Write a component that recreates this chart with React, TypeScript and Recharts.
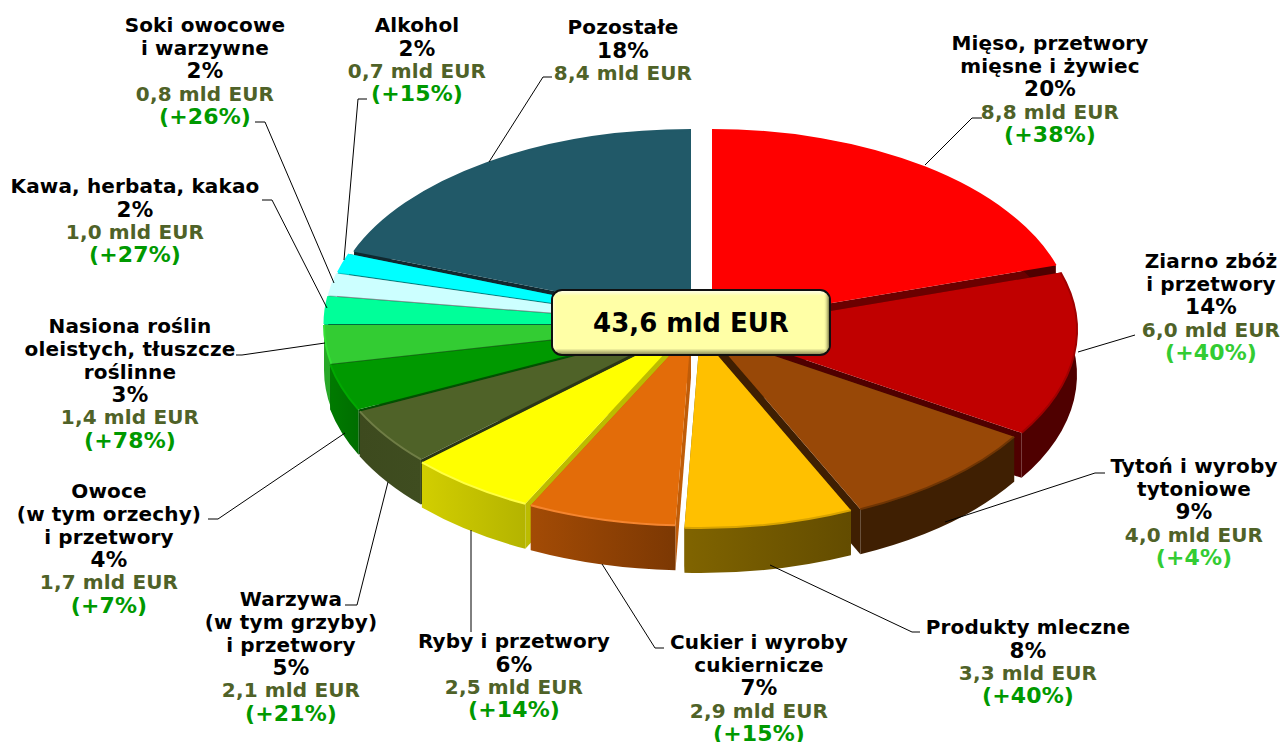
import { Pie, PieChart } from "recharts";

const CATEGORIES = [
  ["Mięso, przetwory", "mięsne i żywiec"],
  ["Ziarno zbóż", "i przetwory"],
  ["Tytoń i wyroby", "tytoniowe"],
  ["Produkty mleczne"],
  ["Cukier i wyroby", "cukiernicze"],
  ["Ryby i przetwory"],
  ["Warzywa", "(w tym grzyby)", "i przetwory"],
  ["Owoce", "(w tym orzechy)", "i przetwory"],
  ["Nasiona roślin", "oleistych, tłuszcze", "roślinne"],
  ["Kawa, herbata, kakao"],
  ["Soki owocowe", "i warzywne"],
  ["Alkohol"],
  ["Pozostałe"],
];
const VALUES = [8.8, 6.0, 4.0, 3.3, 2.9, 2.5, 2.1, 1.7, 1.4, 1.0, 0.8, 0.7, 8.4];
const SHARES = [20, 14, 9, 8, 7, 6, 5, 4, 3, 2, 2, 2, 18];
const CHANGES = [38, 40, 4, 40, 15, 14, 21, 7, 78, 27, 26, 15, null];
const TOTAL_LABEL = "43,6 mld EUR";

const TOP_COLORS = ["#ff0000", "#c00000", "#984807", "#ffc000", "#e36c09", "#ffff00", "#4f6228", "#009900", "#33cc33", "#00ff99", "#ccffff", "#00ffff", "#215968"];
const RIM_COLORS = ["#ff0000", "#a00000", "#6f3504", "#d9a400", "#f5852f", "#ffff40", "#6f7d45", "#00a800", "#35e035", "#00ff99", "#ccffff", "#00ffff", "#215968"];
const CUT_COLORS = ["#6b0000", "#4f0000", "#3f1f02", "#806000", "#c05c08", "#bcbc00", "#2b3616", "#005200", "#1c6e1c", "#006b40", "#7f8f8f", "#008080", "#10282f"];
const WALL_LEFT = ["#4f0000", "#4f0000", "#3f1f02", "#806400", "#a34b05", "#d2ce00", "#3d4a1e", "#007a00", "#28a828", "#00cc7a", "#a3cccc", "#00cccc", "#10282f"];
const WALL_RIGHT = ["#4f0000", "#4f0000", "#3f1f02", "#634c00", "#7c3803", "#b4b400", "#3f4d20", "#006e00", "#28a828", "#00cc7a", "#a3cccc", "#00cccc", "#10282f"];

// where each exploded slice has its tip
const APEX = [
  [712, 323], [717, 330], [709.5, 334], [700, 335], [691, 332.5], [685.5, 331], [684.5, 328],
  [683, 326], [684, 325], [684.5, 324], [685, 323], [686, 322], [691, 318],
];
const RX = 360;
// Pozostałe is a bit flatter than the rest, its cut edge shows over the cyan slice
const RY = [193, 193, 193, 193, 193, 193, 193, 193, 193, 193, 193, 193, 188];
const DEPTH = 45;

// label centre x, first line y, leader line points
const LABEL_LAYOUT: { x: number; y: number; line: number[][] }[] = [
  { x: 1050, y: 43, line: [[925, 165], [972, 118], [982, 118]] },
  { x: 1211, y: 261, line: [[1078, 352], [1135, 335]] },
  { x: 1194, y: 466, line: [[945, 522], [1095, 473], [1105, 473]] },
  { x: 1028, y: 627, line: [[770, 565], [912, 632], [920, 632]] },
  { x: 759, y: 642, line: [[602, 564], [655, 648], [664, 648]] },
  { x: 514, y: 641, line: [[471, 530], [471, 632]] },
  { x: 291, y: 599, line: [[388, 482], [357, 605], [345, 605]] },
  { x: 109, y: 491, line: [[345, 433], [218, 519], [208, 519]] },
  { x: 130, y: 326, line: [[325, 343], [242, 355], [236, 355]] },
  { x: 135, y: 186, line: [[327, 308], [272, 200], [262, 200]] },
  { x: 205, y: 25, line: [[334, 283], [265, 122], [255, 122]] },
  { x: 417, y: 25, line: [[344, 260], [358, 99], [367, 99]] },
  { x: 623, y: 27, line: [[489, 162], [543, 77], [552, 77]] },
];

const rows = VALUES.map((value, id) => ({ id, value }));
const rowsBack = [...rows].reverse();

const pt = (i: number, deg: number, dy = 0) => {
  const a = (deg * Math.PI) / 180;
  return [APEX[i][0] + RX * Math.cos(a), APEX[i][1] - RY[i] * Math.sin(a) + dy];
};

// elliptical arc from angle a to b (clockwise on screen)
const arc = (i: number, a: number, b: number, dy = 0, back = false) => {
  const [x, y] = back ? pt(i, a, dy) : pt(i, b, dy);
  const large = Math.abs(a - b) > 180 ? 1 : 0;
  return `A${RX} ${RY[i]} 0 ${large} ${back ? 0 : 1} ${x} ${y}`;
};

const angles = (props: any) => {
  const hi = Math.max(props.startAngle, props.endAngle);
  const lo = Math.min(props.startAngle, props.endAngle);
  return [hi, lo];
};

const rowId = (props: any): number => props.payload?.id ?? props.id;

function wallShape(props: any, show: (i: number) => boolean) {
  const i = rowId(props);
  if (!show(i)) return <g />;
  const [a, b] = angles(props);
  const [ax, ay] = APEX[i];
  const s = pt(i, a);
  const e = pt(i, b);
  const cut = (p: number[]) => `M${ax} ${ay}L${p[0]} ${p[1]}L${p[0]} ${p[1] + DEPTH}L${ax} ${ay + DEPTH}Z`;
  const wall = `M${s[0]} ${s[1]}${arc(i, a, b)}L${e[0]} ${e[1] + DEPTH}${arc(i, a, b, DEPTH, true)}Z`;
  return (
    <g>
      <path d={cut(s)} fill={CUT_COLORS[i]} />
      <path d={cut(e)} fill={CUT_COLORS[i]} />
      <path d={wall} fill={`url(#wall${i})`} />
    </g>
  );
}

function topShape(props: any) {
  const i = rowId(props);
  const [a, b] = angles(props);
  const [ax, ay] = APEX[i];
  const s = pt(i, a);
  return (
    <g>
      <path d={`M${ax} ${ay}L${s[0]} ${s[1]}${arc(i, a, b)}Z`} fill={TOP_COLORS[i]} />
      <path d={`M${s[0]} ${s[1]}${arc(i, a, b)}`} fill="none" stroke={RIM_COLORS[i]} strokeWidth={2} />
    </g>
  );
}

function SliceLabel(props: any) {
  const i = rowId(props);
  const { x, y, line } = LABEL_LAYOUT[i];
  const lines = [
    ...CATEGORIES[i].map((t) => ({ t, c: "#000000", s: 20 })),
    { t: `${SHARES[i]}%`, c: "#000000", s: 21.5 },
    { t: `${VALUES[i].toFixed(1).replace(".", ",")} mld EUR`, c: "#4f6228", s: 20 },
  ];
  if (CHANGES[i] !== null) {
    lines.push({ t: `(+${CHANGES[i]}%)`, c: i === 1 || i === 2 ? "#33cc33" : "#009900", s: 22 });
  }
  return (
    <g>
      <polyline points={line.map((p) => p.join(",")).join(" ")} fill="none" stroke="#000000" strokeWidth={1} />
      {lines.map((l, n) => (
        <text
          key={n}
          x={x}
          y={y + n * 22.8}
          dy="0.36em"
          textAnchor="middle"
          fill={l.c}
          fontFamily="DejaVu Sans"
          fontWeight="bold"
          fontSize={l.s}
          letterSpacing={0.15}
        >
          {l.t}
        </text>
      ))}
    </g>
  );
}

export default function App() {
  return (
    <div style={{ position: "absolute", left: 0, top: 0, width: 1283, height: 742, background: "#ffffff" }}>
      <PieChart width={1283} height={742} margin={{ top: 0, right: 0, bottom: 0, left: 0 }}>
        <defs>
          {rows.map(({ id }) => (
            <linearGradient key={id} id={`wall${id}`} x1="0" y1="0" x2="1" y2="0">
              <stop offset="0%" stopColor={WALL_LEFT[id]} />
              <stop offset="100%" stopColor={WALL_RIGHT[id]} />
            </linearGradient>
          ))}
        </defs>
        {/* left half goes back to front, so it runs the other way round */}
        <Pie
          data={rowsBack}
          dataKey="value"
          cx={700}
          cy={330}
          outerRadius={RX}
          startAngle={-270}
          endAngle={90}
          stroke="none"
          isAnimationActive={false}
          shape={(p: any) => wallShape(p, (i) => i >= 4)}
        />
        <Pie
          data={rows}
          dataKey="value"
          cx={700}
          cy={330}
          outerRadius={RX}
          startAngle={90}
          endAngle={-270}
          stroke="none"
          isAnimationActive={false}
          shape={(p: any) => wallShape(p, (i) => i < 4)}
        />
        <Pie
          data={rows}
          dataKey="value"
          cx={700}
          cy={330}
          outerRadius={RX}
          startAngle={90}
          endAngle={-270}
          stroke="none"
          isAnimationActive={false}
          shape={topShape}
          label={SliceLabel}
          labelLine={false}
        />
      </PieChart>
      {/* total box sits over the pie, in its own svg */}
      <svg width={1283} height={742} style={{ position: "absolute", left: 0, top: 0, pointerEvents: "none" }}>
        <defs>
          <linearGradient id="boxFace" x1="0" y1="0" x2="0" y2="1">
            <stop offset="0%" stopColor="#fffff2" />
            <stop offset="9%" stopColor="#ffffa6" />
            <stop offset="90%" stopColor="#ffffa6" />
            <stop offset="100%" stopColor="#7f7f50" />
          </linearGradient>
          <linearGradient id="boxSide" x1="0" y1="0" x2="1" y2="0">
            <stop offset="0%" stopColor="#ffffd8" stopOpacity={0.9} />
            <stop offset="1.5%" stopColor="#ffffa6" stopOpacity={0} />
            <stop offset="98%" stopColor="#ffffa6" stopOpacity={0} />
            <stop offset="100%" stopColor="#6f6f40" stopOpacity={0.9} />
          </linearGradient>
        </defs>
        <rect x={552} y={290} width={278} height={65} rx={10} fill="url(#boxFace)" stroke="#101010" strokeWidth={2} />
        <rect x={553} y={291} width={276} height={63} rx={9} fill="url(#boxSide)" />
        <text
          x={691}
          y={323}
          dy="0.36em"
          textAnchor="middle"
          fontFamily="DejaVu Sans"
          fontWeight="bold"
          fontSize={26}
          fill="#000000"
        >
          {TOTAL_LABEL}
        </text>
      </svg>
    </div>
  );
}
